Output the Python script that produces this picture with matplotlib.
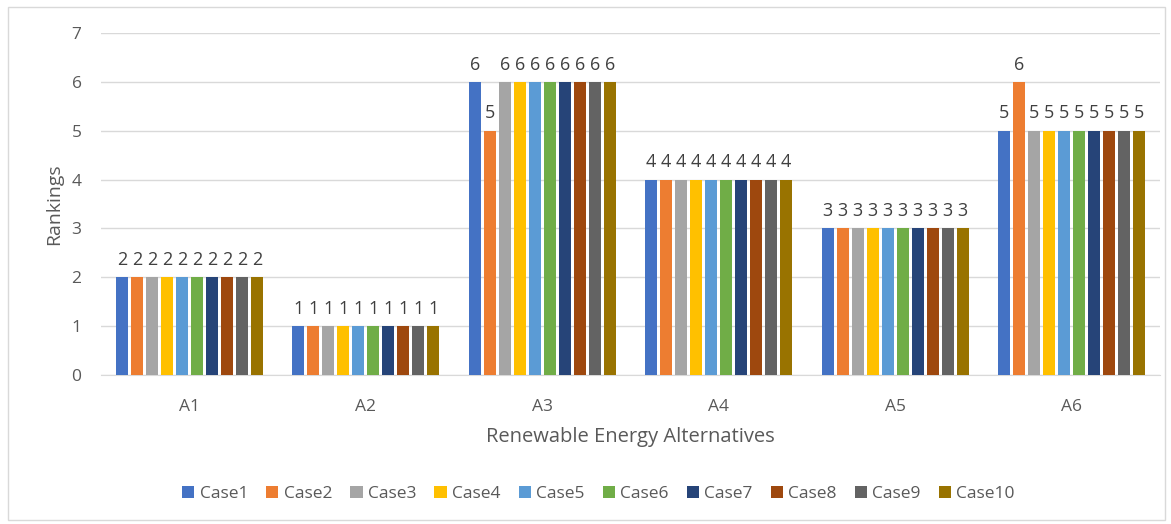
import matplotlib.pyplot as plt
import numpy as np
from matplotlib.patches import Rectangle

# Alternatives and cases
ALTERNATIVES = ['A1', 'A2', 'A3', 'A4', 'A5', 'A6']
CASES = ['Case1', 'Case2', 'Case3', 'Case4', 'Case5',
         'Case6', 'Case7', 'Case8', 'Case9', 'Case10']

# Rankings per case (one list per case, values for A1..A6)
case1 = [2, 1, 6, 4, 3, 5]
case2 = [2, 1, 5, 4, 3, 6]
case3 = [2, 1, 6, 4, 3, 5]
case4 = [2, 1, 6, 4, 3, 5]
case5 = [2, 1, 6, 4, 3, 5]
case6 = [2, 1, 6, 4, 3, 5]
case7 = [2, 1, 6, 4, 3, 5]
case8 = [2, 1, 6, 4, 3, 5]
case9 = [2, 1, 6, 4, 3, 5]
case10 = [2, 1, 6, 4, 3, 5]
RANKINGS = [case1, case2, case3, case4, case5,
            case6, case7, case8, case9, case10]

COLORS = ['#4472C4', '#ED7D31', '#A5A5A5', '#FFC000', '#5B9BD5',
          '#70AD47', '#264478', '#9E480E', '#636363', '#997300']

TEXT = '#595959'
FONT = 'Open Sans'

plt.rcParams['font.family'] = [FONT, 'DejaVu Sans']

fig = plt.figure(figsize=(11.71, 5.24), dpi=100)
ax = fig.add_axes([0.0863, 0.2844, 0.9043, 0.6526])

x = np.arange(len(ALTERNATIVES))
step = 0.085
width = 0.068

for i, (name, vals, col) in enumerate(zip(CASES, RANKINGS, COLORS)):
    pos = x + (i - 4.5) * step
    bars = ax.bar(pos, vals, width=width, color=col, label=name, zorder=3)
    for b, v in zip(bars, vals):
        ax.annotate(str(v), (b.get_x() + b.get_width() / 2, v),
                    xytext=(0, 6), textcoords='offset points',
                    ha='center', va='bottom', fontsize=13, color='#404040')

ax.set_xlim(-0.5, len(ALTERNATIVES) - 0.5)
ax.set_ylim(0, 7)
ax.set_yticks(range(0, 8))
ax.set_xticks(x)
ax.set_xticklabels(ALTERNATIVES)
ax.grid(axis='y', color='#D9D9D9', linewidth=1, zorder=0)
for s in ['top', 'right', 'left']:
    ax.spines[s].set_visible(False)
ax.spines['bottom'].set_color('#D9D9D9')
ax.tick_params(length=0, labelsize=12.5, colors=TEXT)
ax.tick_params(axis='x', pad=17)
ax.tick_params(axis='y', pad=14)

ax.set_xlabel('Renewable Energy Alternatives', fontsize=14.5, color=TEXT, labelpad=9)
ax.set_ylabel('Rankings', fontsize=14, color=TEXT, labelpad=6)

fig.legend(loc='center', bbox_to_anchor=(0.511, 0.057), ncol=10, frameon=False,
           fontsize=12.5, labelcolor=TEXT, handlelength=0.7, handleheight=0.7,
           handletextpad=0.3, columnspacing=1.05)

fig.patches.append(Rectangle((8 / 1171, 4 / 524), 1157 / 1171, 513 / 524,
                             transform=fig.transFigure, fill=False,
                             edgecolor='#D9D9D9', linewidth=1))

fig.savefig('out.png', dpi=100)
